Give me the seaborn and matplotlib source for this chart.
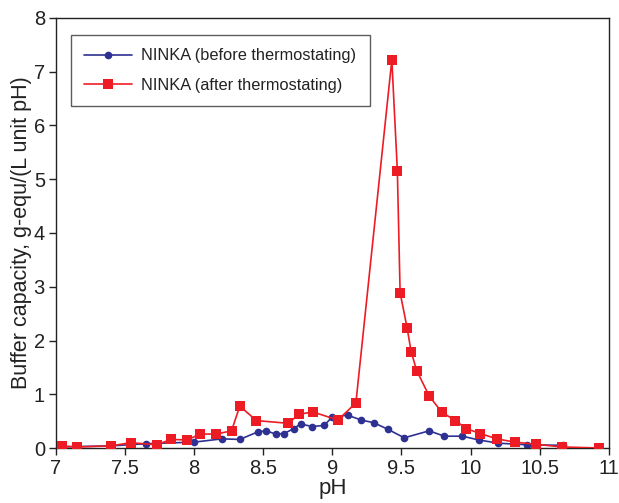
import matplotlib
matplotlib.use("Agg")
import matplotlib.pyplot as plt
import seaborn as sns
import pandas as pd

# Buffer capacity of NINKA vs pH, before and after thermostating
ph_before = [7.03, 7.40, 7.65, 8.00, 8.20, 8.33, 8.46, 8.52, 8.59, 8.65, 8.72,
             8.77, 8.85, 8.94, 9.00, 9.11, 9.21, 9.30, 9.40, 9.52, 9.70, 9.81,
             9.94, 10.06, 10.20, 10.41, 10.67]
cap_before = [0.02, 0.04, 0.08, 0.11, 0.17, 0.16, 0.30, 0.32, 0.26, 0.27, 0.36,
              0.45, 0.40, 0.42, 0.58, 0.61, 0.52, 0.47, 0.35, 0.19, 0.32, 0.22,
              0.22, 0.15, 0.09, 0.06, 0.05]

ph_after = [7.04, 7.15, 7.40, 7.54, 7.73, 7.83, 7.95, 8.04, 8.16, 8.27, 8.33,
            8.45, 8.68, 8.76, 8.86, 9.04, 9.17, 9.43, 9.47, 9.49, 9.54, 9.57,
            9.61, 9.70, 9.79, 9.89, 9.97, 10.07, 10.19, 10.32, 10.47, 10.66, 10.93]
cap_after = [0.04, 0.02, 0.04, 0.10, 0.06, 0.16, 0.15, 0.26, 0.26, 0.32, 0.78,
             0.51, 0.46, 0.63, 0.67, 0.52, 0.84, 7.22, 5.16, 2.89, 2.24, 1.79,
             1.44, 0.97, 0.67, 0.51, 0.36, 0.27, 0.17, 0.11, 0.07, 0.02, 0.00]

x_ticks = [7, 7.5, 8, 8.5, 9, 9.5, 10, 10.5, 11]
x_tick_labels = ["7", "7.5", "8", "8.5", "9", "9.5", "10", "10.5", "11"]
y_ticks = [0, 1, 2, 3, 4, 5, 6, 7, 8]

sns.set_theme(style="ticks")
plt.rcParams["font.family"] = ["Liberation Sans", "DejaVu Sans"]

blue = "#2E3192"
red = "#ED1C24"
ink = "#222222"

fig = plt.figure(figsize=(6.19, 5.03), dpi=100)
ax = fig.add_axes([0.0905, 0.1093, 0.893, 0.855])

df_b = pd.DataFrame({"pH": ph_before, "cap": cap_before})
df_a = pd.DataFrame({"pH": ph_after, "cap": cap_after})

sns.lineplot(data=df_b, x="pH", y="cap", ax=ax, sort=False, color=blue,
             linewidth=1.2, marker="o", markersize=5.5, markeredgewidth=0,
             label="NINKA (before thermostating)", zorder=2)
sns.lineplot(data=df_a, x="pH", y="cap", ax=ax, sort=False, color=red,
             linewidth=1.2, marker="s", markersize=7, markeredgewidth=0,
             label="NINKA (after thermostating)", zorder=3)

ax.set_xlim(7, 11)
ax.set_ylim(0, 8)
ax.set_xticks(x_ticks)
ax.set_xticklabels(x_tick_labels)
ax.set_yticks(y_ticks)
ax.tick_params(axis="both", labelsize=14.5, direction="out", length=5,
               width=1, colors=ink, pad=3)
ax.tick_params(top=False, right=False)
for s in ax.spines.values():
    s.set_visible(True)
    s.set_color(ink)
    s.set_linewidth(1.0)

ax.set_xlabel("pH", fontsize=16, labelpad=0, color=ink)
ax.set_ylabel("Buffer capacity, g-equ/(L unit pH)", fontsize=15.5,
              labelpad=1, color=ink)

leg = ax.legend(loc="upper left", bbox_to_anchor=(0.027, 0.96),
                borderaxespad=0, fontsize=11.8, frameon=True, fancybox=False,
                edgecolor="#333333", handlelength=2.9, borderpad=0.8,
                labelspacing=0.9, handletextpad=0.6)
leg.get_frame().set_linewidth(1.0)
for t in leg.get_texts():
    t.set_color(ink)

fig.savefig("out.png", dpi=100)
